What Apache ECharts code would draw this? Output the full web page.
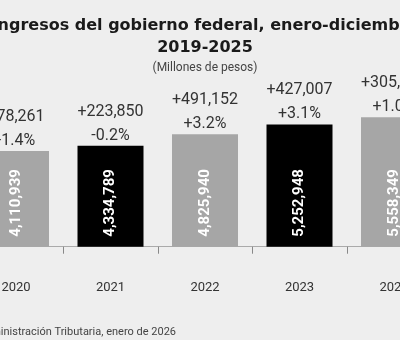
<!DOCTYPE html>
<html>
<head>
<meta charset="utf-8">
<script src="https://cdn.jsdelivr.net/npm/echarts@6/dist/echarts.min.js"></script>
<style>
  html, body { margin: 0; padding: 0; background: #eeeeee; overflow: hidden; }
  body { width: 400px; height: 340px; position: relative; }
  #chart { position: absolute; left: -50px; top: 0; width: 500px; height: 340px; }
</style>
</head>
<body>
<div id="chart"></div>
<script>
// Ingresos del gobierno federal (millones de pesos)
const years = ['2020', '2021', '2022', '2023', '2024'];
const ingresos = [4110939, 4334789, 4825940, 5252948, 5558349];
// Variación absoluta respecto al año anterior (millones de pesos)
const variacionAbs = [78261, 223850, 491152, 427007, 305401];
// Variación real anual (%)
const variacionReal = [-1.4, -0.2, 3.2, 3.1, 1.0];
const barColors = ['#a6a6a6', '#000000', '#a6a6a6', '#000000', '#a6a6a6'];

const fmt = n => n.toLocaleString('en-US');
const signed = n => (n >= 0 ? '+' : '') + n;

const chart = echarts.init(document.getElementById('chart'), null, { renderer: 'canvas' });

chart.setOption({
  backgroundColor: '#eeeeee',
  animation: false,
  title: {
    text: 'Ingresos del gobierno federal, enero-diciembre\n2019-2025',
    subtext: '(Millones de pesos)',
    left: 255,
    top: 15,
    textAlign: 'center',
    padding: 0,
    itemGap: 1,
    textStyle: { fontFamily: 'DejaVu Sans', fontWeight: 'bold', fontSize: 16, lineHeight: 22, color: '#1a1a1a' },
    subtextStyle: { fontFamily: 'Roboto', fontSize: 12, lineHeight: 16, color: '#444444' }
  },
  grid: { left: 18.75, right: 8.75, top: 107, bottom: 70 },
  xAxis: {
    type: 'category',
    data: years,
    axisLine: { lineStyle: { color: '#aaaaaa', width: 1 } },
    axisTick: { show: true, length: 7, lineStyle: { color: '#888888' } },
    axisLabel: { margin: 11, fontFamily: 'Roboto', fontSize: 13, color: '#333333' }
  },
  yAxis: {
    type: 'value',
    min: -1000000,
    max: 6000000,
    show: false
  },
  graphic: [{
    type: 'text',
    style: {
      x: 226, y: 332,
      text: 'Fuente: Servicio de Administración Tributaria, enero de 2026',
      align: 'right', verticalAlign: 'middle',
      font: '11px Roboto', fill: '#444444'
    }
  }],
  series: [
    {
      type: 'bar',
      data: ingresos.map((v, i) => ({ value: v, itemStyle: { color: barColors[i] } })),
      barWidth: 66,
      label: {
        show: true,
        position: 'insideBottom',
        rotate: 90,
        align: 'left',
        verticalAlign: 'middle',
        distance: 10,
        formatter: p => fmt(p.value),
        fontFamily: 'Roboto',
        fontWeight: 'bold',
        fontSize: 15,
        color: '#ffffff'
      }
    },
    {
      type: 'bar',
      data: ingresos,
      barWidth: 66,
      barGap: '-100%',
      itemStyle: { color: 'rgba(0,0,0,0)' },
      label: {
        show: true,
        position: 'top',
        distance: 0,
        formatter: p => '{a|+' + fmt(variacionAbs[p.dataIndex]) + '}\n{b|' + signed(variacionReal[p.dataIndex].toFixed(1)) + '%}',
        rich: {
          a: { fontFamily: 'Roboto', fontSize: 16, lineHeight: 28, color: '#333333' },
          b: { fontFamily: 'Roboto', fontSize: 16, lineHeight: 20, color: '#333333' }
        }
      }
    }
  ]
});
</script>
</body>
</html>
